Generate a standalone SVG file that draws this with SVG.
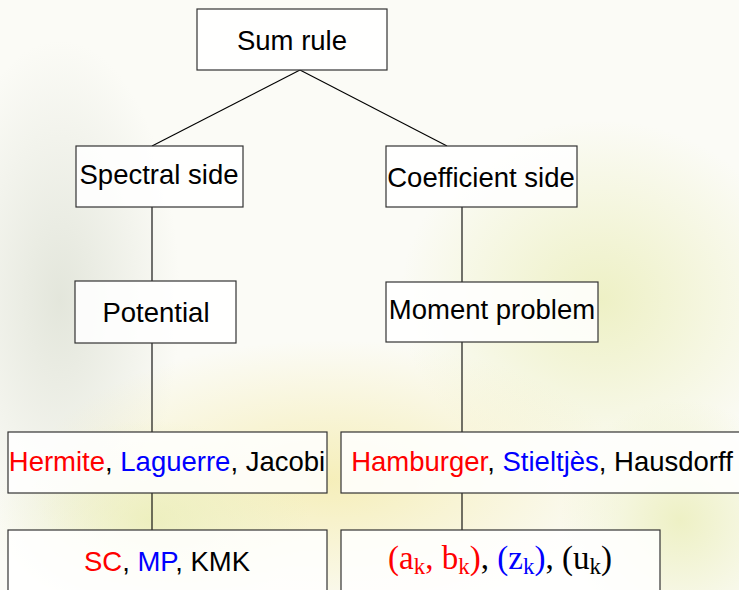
<svg xmlns="http://www.w3.org/2000/svg" width="739" height="590" viewBox="0 0 739 590">
<defs>
<style>
.box{fill:#ffffff;fill-opacity:0.85;stroke:#333333;stroke-width:1.2}
.t{font-family:"Liberation Sans",Arial,sans-serif;font-size:27.5px;fill:#000;text-anchor:middle}
.m{font-family:"Liberation Serif","DejaVu Serif",serif;font-size:33px;fill:#000;text-anchor:middle}
.s{font-size:23px}
.r{fill:#ff0000}
.b{fill:#0000ff}
.conn line{stroke:#000;stroke-width:1.1}
</style>
<radialGradient id="g1" cx="0.5" cy="0.5" r="0.5"><stop offset="0" stop-color="#e8ecb0" stop-opacity="0.7"/><stop offset="1" stop-color="#e8ecb0" stop-opacity="0"/></radialGradient>
<radialGradient id="g2" cx="0.5" cy="0.5" r="0.5"><stop offset="0" stop-color="#d9ddd0" stop-opacity="0.7"/><stop offset="1" stop-color="#d9ddd0" stop-opacity="0"/></radialGradient>
<radialGradient id="g3" cx="0.5" cy="0.5" r="0.5"><stop offset="0" stop-color="#f3e9a0" stop-opacity="0.7"/><stop offset="1" stop-color="#f3e9a0" stop-opacity="0"/></radialGradient>
</defs>
<rect x="0" y="0" width="739" height="590" fill="#fbfbf6"/>
<g id="background">
<ellipse cx="60" cy="300" rx="120" ry="260" fill="url(#g2)"/>
<ellipse cx="600" cy="300" rx="200" ry="180" fill="url(#g1)"/>
<ellipse cx="330" cy="480" rx="300" ry="140" fill="url(#g3)"/>
<ellipse cx="680" cy="520" rx="120" ry="120" fill="url(#g1)"/>
<ellipse cx="150" cy="520" rx="160" ry="100" fill="url(#g1)"/>
</g>
<g id="connectors" class="conn">
<line x1="300" y1="70" x2="152" y2="146"/>
<line x1="300" y1="70" x2="447" y2="146"/>
<line x1="152" y1="207" x2="152" y2="281"/>
<line x1="462" y1="207" x2="462" y2="282"/>
<line x1="152" y1="343" x2="152" y2="432"/>
<line x1="462" y1="342" x2="462" y2="432"/>
<line x1="152" y1="493" x2="152" y2="530"/>
<line x1="462" y1="493" x2="462" y2="530"/>
</g>
<g id="sum-rule"><rect class="box" x="197" y="9" width="190" height="61"/><text class="t" x="292" y="50">Sum rule</text></g>
<g id="spectral-side"><rect class="box" x="76" y="146" width="167" height="61"/><text class="t" x="159" y="184">Spectral side</text></g>
<g id="coefficient-side"><rect class="box" x="386" y="146" width="191" height="61"/><text class="t" x="481" y="187">Coefficient side</text></g>
<g id="potential"><rect class="box" x="75" y="281" width="161" height="62"/><text class="t" x="156" y="322">Potential</text></g>
<g id="moment-problem"><rect class="box" x="386" y="282" width="212" height="60"/><text class="t" x="492" y="319">Moment problem</text></g>
<g id="families"><rect class="box" x="8" y="432" width="319" height="61"/><text class="t" x="167" y="471"><tspan class="r">Hermite</tspan>, <tspan class="b">Laguerre</tspan>, Jacobi</text></g>
<g id="moment-types"><rect class="box" x="341" y="432" width="410" height="61"/><text class="t" x="542" y="471"><tspan class="r">Hamburger</tspan>, <tspan class="b">Stieltjès</tspan>, Hausdorff</text></g>
<g id="theorems"><rect class="box" x="8" y="530" width="319" height="70"/><text class="t" x="167" y="571"><tspan class="r">SC</tspan>, <tspan class="b">MP</tspan>, KMK</text></g>
<g id="sequences"><rect class="box" x="341" y="530" width="319" height="70"/><text class="m" x="500" y="569"><tspan class="r">(a<tspan class="s" dy="5">k</tspan><tspan dy="-5">, b</tspan><tspan class="s" dy="5">k</tspan><tspan dy="-5">)</tspan></tspan>, <tspan class="b">(z<tspan class="s" dy="5">k</tspan><tspan dy="-5">)</tspan></tspan>, (u<tspan class="s" dy="5">k</tspan><tspan dy="-5">)</tspan></text></g>
</svg>
